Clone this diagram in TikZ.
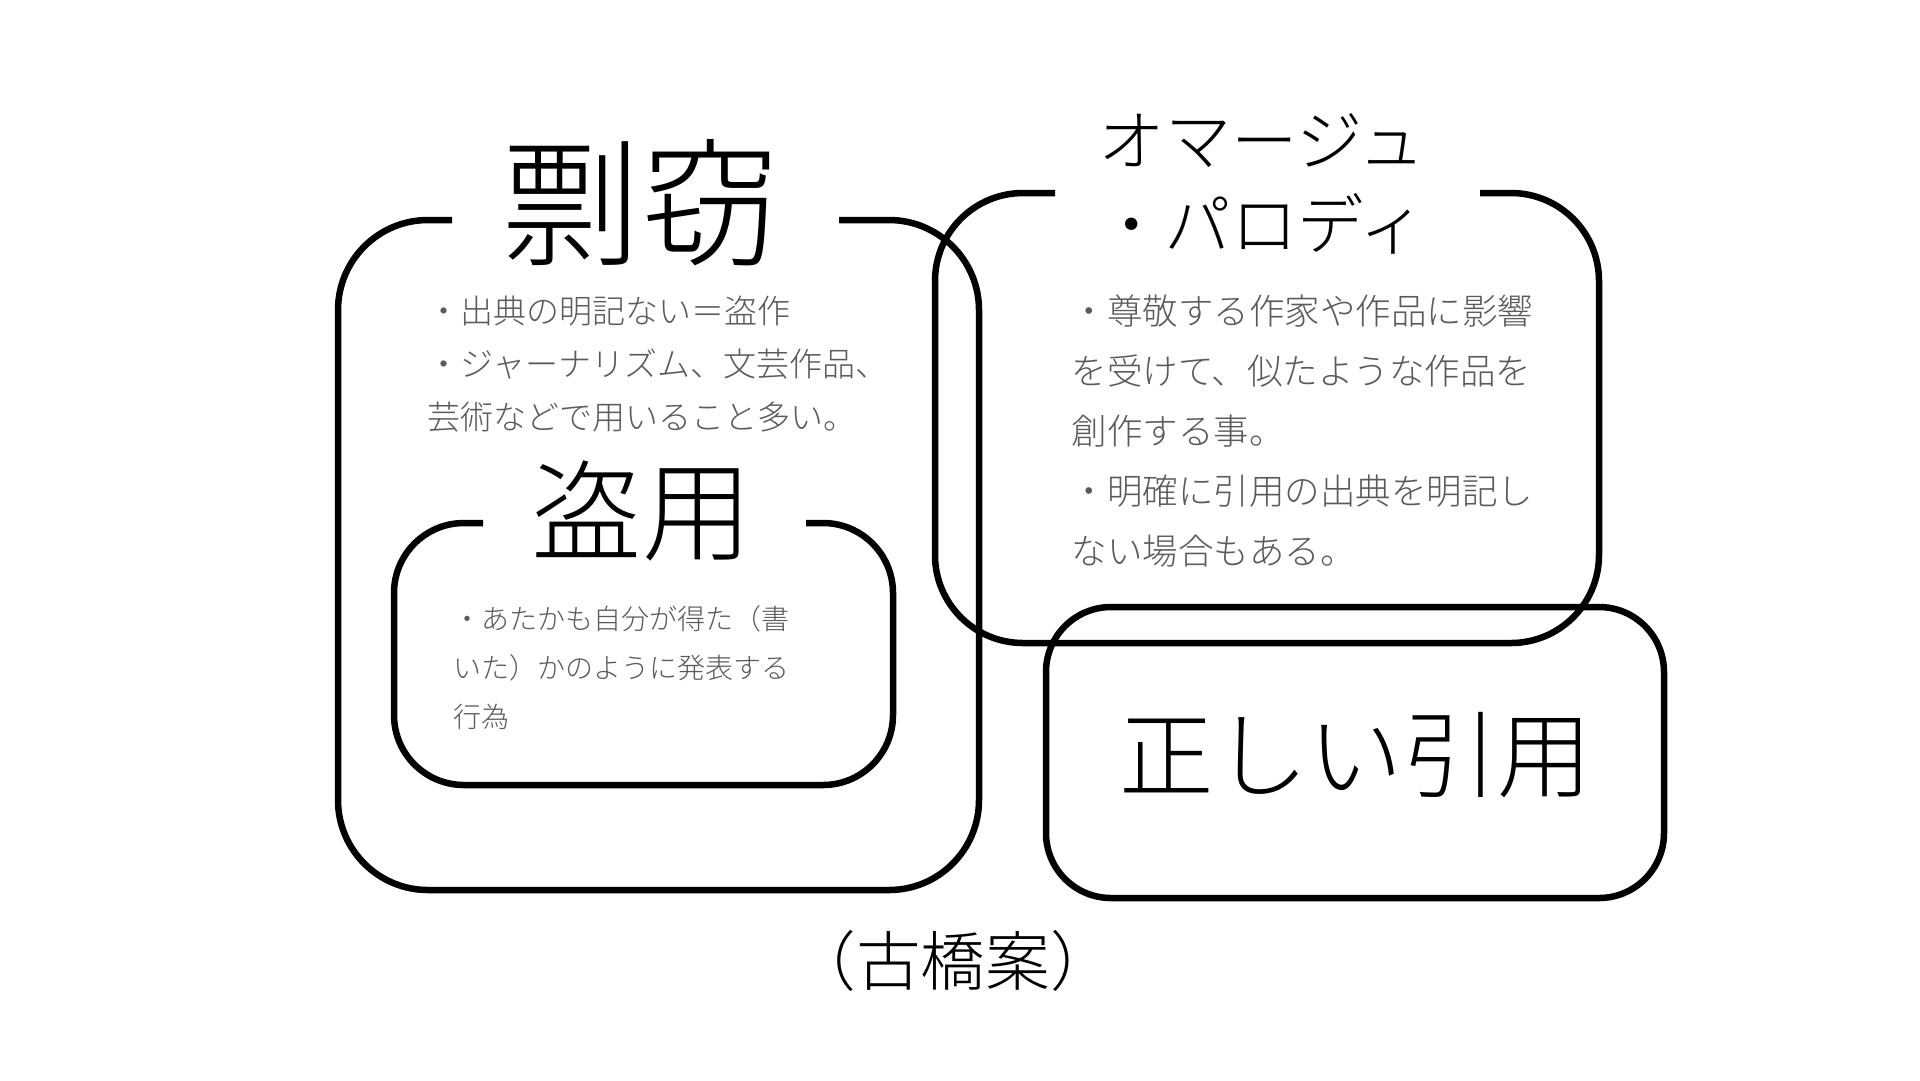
\documentclass[tikz,border=0pt]{standalone}
\usepackage{fontspec}
\IfFontExistsTF{Noto Sans CJK JP Light}
  {\setmainfont{Noto Sans CJK JP Light}}
  {\setmainfont{Noto Sans CJK JP}}
\usepackage{xcolor}
\definecolor{bodygray}{HTML}{5A5A5A}

\tikzset{
  boxline/.style={line width=0.65mm, line join=round},
  headtext/.style={inner sep=0pt, text=black},
  bodytext/.style={inner sep=0pt, anchor=north west, align=left, text=bodygray},
}

\begin{document}
\begin{tikzpicture}[x=0.1mm, y=-0.1mm]
  \useasboundingbox (0,0) rectangle (1920,1080);

  % Frame: plagiarism (open at the top)
  \draw[boxline, rounded corners=9mm] (839,220) -- (979,220) -- (979,890) -- (338,890) -- (338,220) -- (452,220);
  \node[headtext, font=\fontsize{39.5pt}{42pt}\selectfont] (hyosetsu) at (641,203) {剽窃};
  \node[bodytext, font=\fontsize{9.39pt}{15.08pt}\selectfont] (hyosetsutxt) at (427,295)
    {・出典の明記ない＝盗作\\・ジャーナリズム、文芸作品、\\芸術などで用いること多い。};

  % Frame: misappropriation (inside)
  \draw[boxline, rounded corners=7mm] (806,523) -- (893,523) -- (893,785) -- (394,785) -- (394,523) -- (483,523);
  \node[headtext, font=\fontsize{31.3pt}{33pt}\selectfont] (toyo) at (642,511) {盗用};
  \node[bodytext, font=\fontsize{7.97pt}{13.94pt}\selectfont] (toyotxt) at (453,605)
    {・あたかも自分が得た（書\\いた）かのように発表する\\行為};

  % Frame: homage / parody
  \draw[boxline, rounded corners=8.8mm] (1480,193) -- (1599,193) -- (1599,643) -- (935,643) -- (935,193) -- (1055,193);
  \node[headtext, align=center, font=\fontsize{18.9pt}{23.9pt}\selectfont] (homage) at (1262,184) {オマージュ\\・パロディ};
  \node[bodytext, font=\fontsize{10.1pt}{17.07pt}\selectfont] (homagetxt) at (1071,294)
    {・尊敬する作家や作品に影響\\を受けて、似たような作品を\\創作する事。\\・明確に引用の出典を明記し\\ない場合もある。};

  % Frame: correct quotation
  \draw[boxline, rounded corners=6.5mm] (1046,607) rectangle (1664,898);
  \node[headtext, font=\fontsize{26.9pt}{28pt}\selectfont] (inyo) at (1356,755) {正しい引用};

  % Footer
  \node[headtext, font=\fontsize{18.4pt}{20pt}\selectfont] (author) at (953,961) {（古橋案）};
\end{tikzpicture}
\end{document}
